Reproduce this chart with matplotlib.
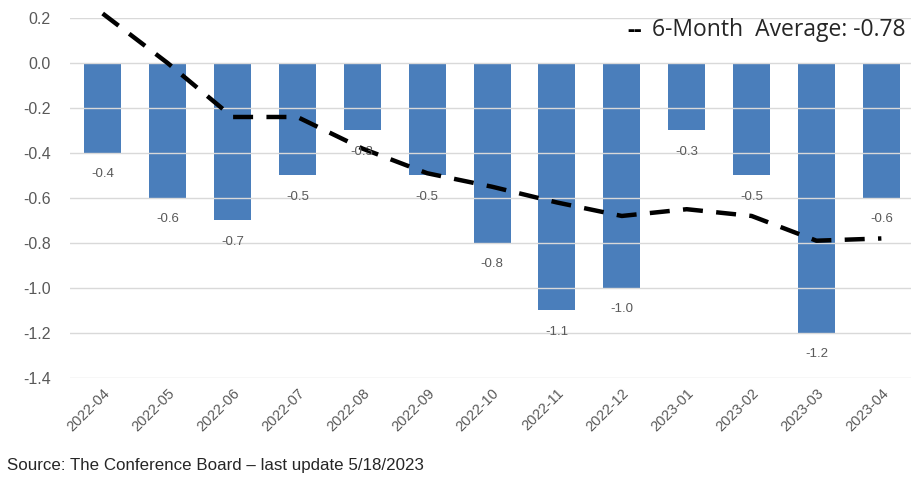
import matplotlib
matplotlib.use("Agg")
import matplotlib.pyplot as plt
import numpy as np

months = ["2022-04", "2022-05", "2022-06", "2022-07", "2022-08", "2022-09",
          "2022-10", "2022-11", "2022-12", "2023-01", "2023-02", "2023-03",
          "2023-04"]
monthly = [-0.4, -0.6, -0.7, -0.5, -0.3, -0.5, -0.8, -1.1, -1.0, -0.3, -0.5,
           -1.2, -0.6]
six_month_avg = [0.22, 0.0, -0.24, -0.24, -0.38, -0.49, -0.55, -0.62, -0.68,
                 -0.65, -0.68, -0.79, -0.78]
yticks = [0.2, 0.0, -0.2, -0.4, -0.6, -0.8, -1.0, -1.2, -1.4]

BAR = "#4a7ebb"
TEXT = "#595959"

plt.rcParams["font.family"] = ["Liberation Sans", "DejaVu Sans"]

fig = plt.figure(figsize=(9.12, 4.87), dpi=100)
ax = fig.add_axes([0.077, 0.224, 0.925, 0.739])

x = np.arange(len(months))
ax.bar(x, monthly, width=0.57, color=BAR, zorder=2)
for yv in yticks:
    ax.axhline(yv, color="#d9d9d9", linewidth=1.0, zorder=3)
ax.plot(x, six_month_avg, color="black", linewidth=3.2, dashes=(4.5, 3),
        zorder=4, clip_on=False)

for xi, v in zip(x, monthly):
    ax.annotate(f"{v:.1f}", (xi, v), xytext=(0, -11), textcoords="offset points",
                ha="center", va="top", fontsize=9.5, color=TEXT, zorder=5)

ax.set_xlim(-0.5, len(months) - 0.5)
ax.set_ylim(-1.4, 0.2)
ax.set_yticks(yticks)
ax.set_yticklabels([f"{v:.1f}" for v in yticks], fontsize=11.5, color=TEXT)
ax.set_xticks(x)
ax.set_xticklabels(months, rotation=45, ha="right", rotation_mode="anchor",
                   fontsize=10.5, color=TEXT)
ax.tick_params(length=0, axis="y", pad=14)
ax.tick_params(length=0, axis="x", pad=6)
for s in ax.spines.values():
    s.set_visible(False)

# legend drawn as text so the short "--" marker matches the original
fig.text(0.993, 0.938, "6-Month  Average: -0.78", ha="right", va="center",
         fontsize=16.5, color="#262626", family="Open Sans")
fig.text(0.688, 0.936, "--", ha="left", va="center", fontsize=16.5,
         color="black", family="Open Sans", fontweight="bold")

fig.text(0.008, 0.045, "Source: The Conference Board \u2013 last update 5/18/2023",
         fontsize=12.2, color="#262626", ha="left", va="center")

fig.savefig("out.png", dpi=100)
